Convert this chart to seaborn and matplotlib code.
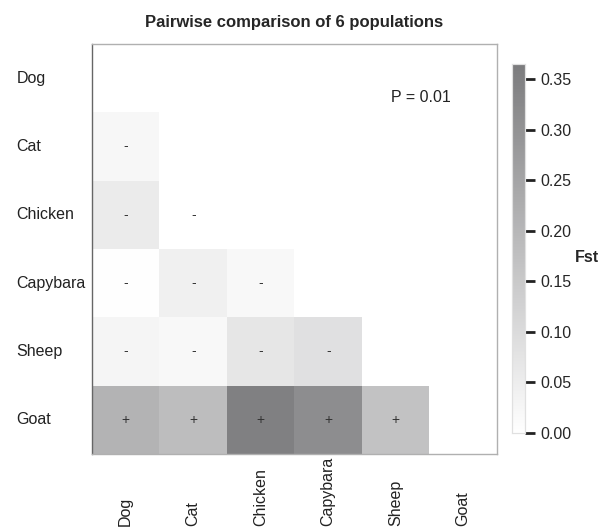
import numpy as np
import pandas as pd
import matplotlib
matplotlib.use("Agg")
import matplotlib.pyplot as plt
import seaborn as sns
from matplotlib.colors import LinearSegmentedColormap

# популяции и попарные Fst (нижний треугольник)
pops = ["Dog", "Cat", "Chicken", "Capybara", "Sheep", "Goat"]
fst_cat = [0.022]
fst_chicken = [0.056, 0.0]
fst_capybara = [0.003, 0.042, 0.020]
fst_sheep = [0.028, 0.020, 0.070, 0.085]
fst_goat = [0.211, 0.183, 0.352, 0.315, 0.169]
signs = ["-"] * 10 + ["+"] * 5
p_text = "P = 0.01"

rows = [[], fst_cat, fst_chicken, fst_capybara, fst_sheep, fst_goat]
mat = np.full((6, 6), np.nan)
annot = np.full((6, 6), "", dtype=object)
k = 0
for i, r in enumerate(rows):
    for j, v in enumerate(r):
        mat[i, j] = v
        annot[i, j] = signs[k]
        k += 1
data = pd.DataFrame(mat, index=pops, columns=pops)
mask = np.triu(np.ones((6, 6), dtype=bool))

sns.set_style("white")
plt.rcParams['font.family'] = ['Liberation Sans', 'DejaVu Sans']

cmap = LinearSegmentedColormap.from_list("grey", ["#ffffff", "#7b7b7d"])

fig = plt.figure(figsize=(6.08, 5.30), dpi=100)
ax = fig.add_axes([0.1513, 0.1434, 0.666, 0.7736])
cax = fig.add_axes([0.842, 0.183, 0.0214, 0.696])

sns.heatmap(data, mask=mask, cmap=cmap, vmin=0, vmax=0.365, annot=annot, fmt="",
            annot_kws={"fontsize": 10, "color": "#333333"},
            ax=ax, cbar_ax=cax, cbar_kws={"ticks": [0, 0.05, 0.1, 0.15, 0.2, 0.25, 0.3, 0.35]})

ax.set_title("Pairwise comparison of 6 populations", fontsize=12, fontweight="bold", pad=12)
ax.set_xlabel("")
ax.set_ylabel("")
ax.set_yticklabels(pops, rotation=0, ha="left", fontsize=11.5, color="#222222")
ax.set_xticklabels(pops, rotation=90, va="bottom", fontsize=11.5, color="#222222")
ax.tick_params(axis="y", length=0, pad=54.5)
ax.tick_params(axis="x", length=0, pad=52)
for s in ax.spines.values():
    s.set_visible(True)
    s.set_color("#b0b0b0")
    s.set_linewidth(1)
ax.spines["left"].set_color("#666666")

ax.text(4.87, 0.79, p_text, ha="center", va="center", fontsize=11.5, color="#222222")

cax.tick_params(length=7, width=2, color="#222222", labelsize=11.5, pad=4)
cax.yaxis.set_major_formatter(matplotlib.ticker.FormatStrFormatter("%.2f"))
for s in cax.spines.values():
    s.set_visible(True)
    s.set_color("#e0e0e0")
    s.set_linewidth(0.8)
fig.text(0.966, 0.515, "Fst", ha="center", va="center", fontsize=11.5, fontweight="bold")

fig.savefig("out.png", dpi=100)
